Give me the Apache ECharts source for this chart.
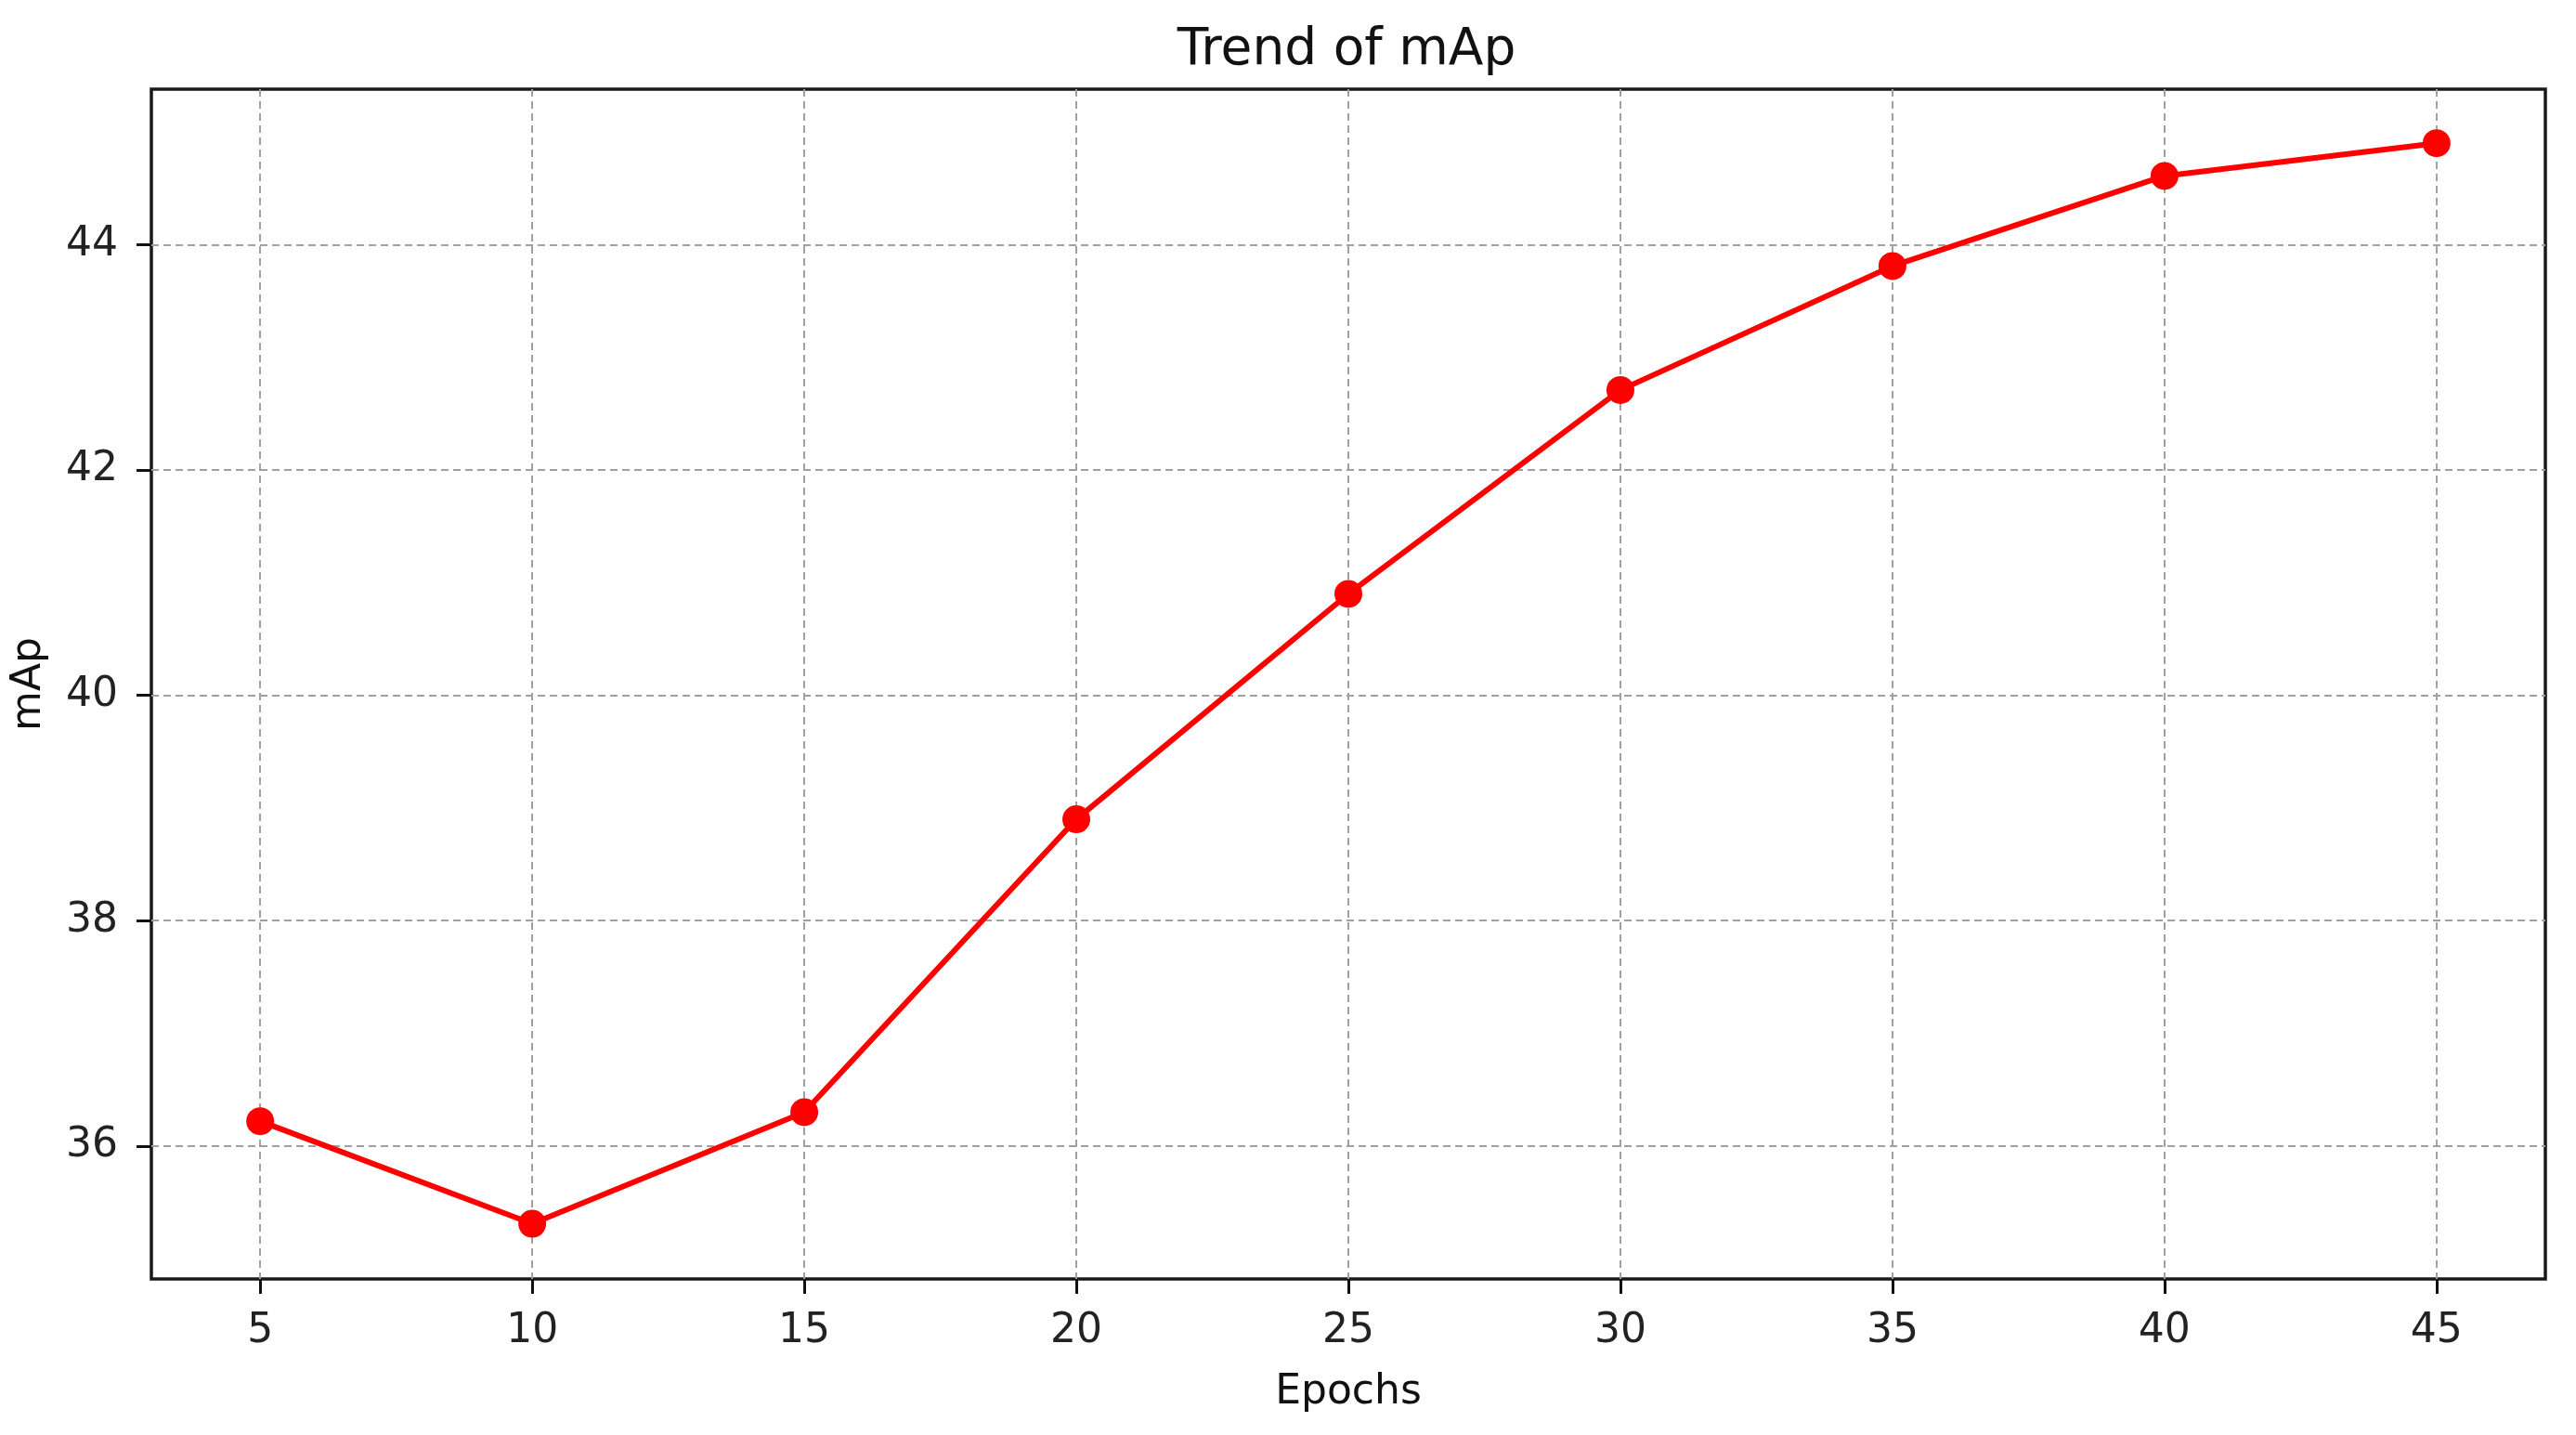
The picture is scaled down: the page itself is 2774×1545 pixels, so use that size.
<!DOCTYPE html>
<html>
<head>
<meta charset="utf-8">
<title>Trend of mAp</title>
<script src="https://cdn.jsdelivr.net/npm/echarts@6/dist/echarts.min.js"></script>
<style>
  html, body { margin: 0; padding: 0; background: #fff; }
  #chart { width: 2774px; height: 1545px; }
</style>
</head>
<body>
<div id="chart"></div>
<script>
// data
const epochs = [5, 10, 15, 20, 25, 30, 35, 40, 45];
const mapValues = [36.22, 35.31, 36.3, 38.9, 40.9, 42.71, 43.81, 44.61, 44.9];
const xTicks = [5, 10, 15, 20, 25, 30, 35, 40, 45];
const yTicks = [36, 38, 40, 42, 44];

const font = "DejaVu Sans";
const gridLine = { show: true, lineStyle: { color: "#a0a0a0", width: 2, type: [8, 5] } };

const chart = echarts.init(document.getElementById("chart"));

chart.setOption({
  backgroundColor: "#fff",
  animation: false,
  title: {
    text: "Trend of mAp",
    left: 1445,
    top: 22,
    textAlign: "center",
    textStyle: { fontFamily: font, fontSize: 55, fontWeight: "normal", color: "#111" },
  },
  grid: {
    left: 163,
    right: 33,
    top: 96,
    bottom: 168,
    show: true,
    borderColor: "#1a1a1a",
    borderWidth: 3.5,
  },
  xAxis: {
    type: "value",
    min: 3,
    max: 47,
    name: "Epochs",
    nameLocation: "middle",
    nameGap: 101,
    nameTextStyle: { fontFamily: font, fontSize: 44, color: "#111" },
    axisLine: { show: false },
    axisTick: { show: true, length: 16, lineStyle: { color: "#111", width: 3 }, customValues: xTicks },
    axisLabel: { fontFamily: font, fontSize: 44, color: "#222", margin: 35, customValues: xTicks },
    splitLine: gridLine,
  },
  yAxis: {
    type: "value",
    min: 34.82,
    max: 45.38,
    name: "mAp",
    nameLocation: "middle",
    nameGap: 109,
    nameTextStyle: { fontFamily: font, fontSize: 44, color: "#111" },
    axisLine: { show: false },
    axisTick: { show: true, length: 16, lineStyle: { color: "#111", width: 3 }, customValues: yTicks },
    axisLabel: { fontFamily: font, fontSize: 44, color: "#222", margin: 36, customValues: yTicks },
    splitLine: gridLine,
  },
  series: [
    {
      type: "line",
      data: epochs.map((e, i) => [e, mapValues[i]]),
      symbol: "circle",
      symbolSize: 30,
      lineStyle: { color: "#ff0000", width: 6 },
      itemStyle: { color: "#ff0000" },
    },
  ],
});

window.addEventListener("resize", () => chart.resize());
</script>
</body>
</html>
